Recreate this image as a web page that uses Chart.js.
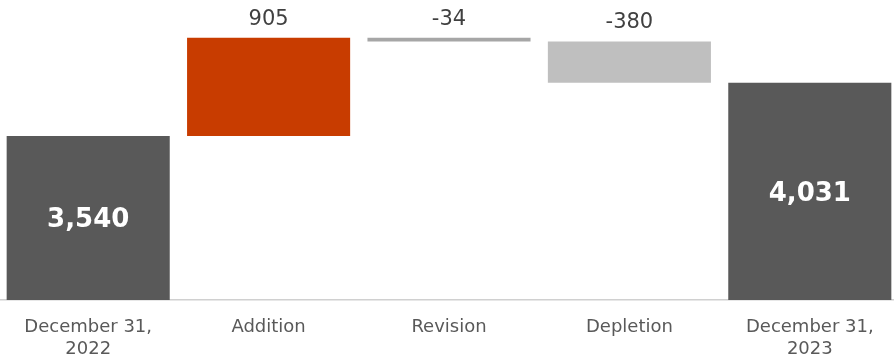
<!DOCTYPE html>
<html>
<head>
<meta charset="utf-8">
<script src="https://cdn.jsdelivr.net/npm/chart.js@4/dist/chart.umd.min.js"></script>
<style>
  html, body { margin: 0; padding: 0; background: #ffffff; overflow: hidden; width: 894px; height: 359px; }
  #wrap { position: absolute; left: -2px; top: 0; width: 902px; height: 359px; }
</style>
</head>
<body>
<div id="wrap"><canvas id="chart" width="902" height="359"></canvas></div>
<script>
// Reserve bridge, in the order it is drawn
const categories = [['December 31,', '2022'], 'Addition', 'Revision', 'Depletion', ['December 31,', '2023']];
const values = [3540, 905, -34, -380, 4031];
const kinds = ['total', 'delta', 'delta', 'delta', 'total'];
const barColors = ['#595959', '#C83C00', '#A6A6A6', '#BFBFBF', '#595959'];
const axisRange = [2030, 4792];

// Floating [start, end] ranges: totals stand on zero, changes hang from the running balance
const ranges = [];
let running = 0;
values.forEach((v, i) => {
  if (kinds[i] === 'total') {
    ranges.push([0, v]);
    running = v;
  } else {
    ranges.push([running, running + v]);
    running += v;
  }
});

const fmt = v => v.toLocaleString('en-US');

const barLabels = {
  id: 'barLabels',
  afterDatasetsDraw(chart) {
    const ctx = chart.ctx;
    const area = chart.chartArea;
    const meta = chart.getDatasetMeta(0);
    meta.data.forEach((bar, i) => {
      const top = Math.min(bar.y, bar.base);
      const bottom = Math.max(bar.y, bar.base);
      ctx.save();
      ctx.textAlign = 'center';
      ctx.textBaseline = 'alphabetic';
      if (kinds[i] === 'total') {
        const size = 26;
        ctx.font = 'bold ' + size + 'px "DejaVu Sans", sans-serif';
        ctx.fillStyle = '#ffffff';
        const mid = (Math.max(top, area.top) + Math.min(bottom, area.bottom)) / 2;
        ctx.fillText(fmt(values[i]), bar.x, mid + size * 0.73 / 2);
      } else {
        ctx.font = '21px "DejaVu Sans", sans-serif';
        ctx.fillStyle = '#404040';
        ctx.fillText(String(values[i]), bar.x, top - 13);
      }
      ctx.restore();
    });
  }
};

new Chart(document.getElementById('chart'), {
  type: 'bar',
  data: {
    labels: categories,
    datasets: [{
      data: ranges,
      backgroundColor: barColors,
      borderWidth: 0,
      categoryPercentage: 1,
      barPercentage: 0.904
    }]
  },
  options: {
    responsive: false,
    animation: false,
    devicePixelRatio: 1,
    layout: { padding: 0 },
    plugins: {
      legend: { display: false },
      tooltip: { enabled: false }
    },
    scales: {
      x: {
        grid: { display: true, drawOnChartArea: false, drawTicks: false },
        border: { display: true, color: '#D0D0D0', width: 1.5 },
        ticks: {
          color: '#595959',
          font: { family: '"DejaVu Sans", sans-serif', size: 18, lineHeight: 1.2 },
          padding: 17,
          maxRotation: 0,
          autoSkip: false
        },
        afterFit(scale) { scale.height = 59; }
      },
      y: {
        display: false,
        min: axisRange[0],
        max: axisRange[1]
      }
    }
  },
  plugins: [barLabels]
});
</script>
</body>
</html>
